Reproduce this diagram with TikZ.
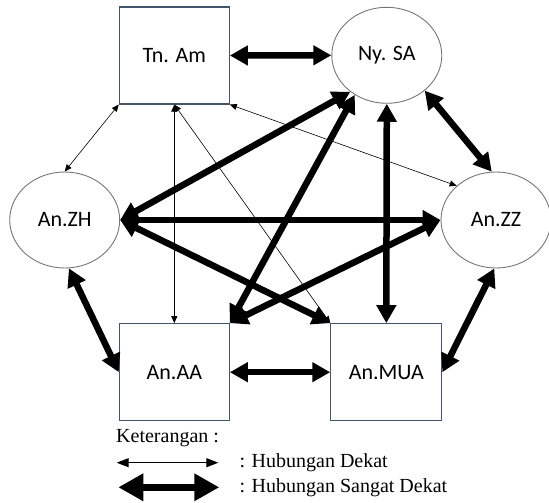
\documentclass[tikz,border=0pt]{standalone}
\usepackage{fontspec}
\setmainfont{Liberation Serif}
\newfontfamily\nodefont{Carlito}
\usepackage{tikz}
\usetikzlibrary{arrows.meta,shapes.geometric}
\definecolor{box_blue}{HTML}{44546A}
\definecolor{oval_gray}{HTML}{767676}

\begin{document}
\begin{tikzpicture}[x=1pt,y=-1pt,
    kotak/.style={draw=box_blue,line width=1.1pt,minimum width=110pt,minimum height=97pt,
        font=\nodefont\fontsize{22pt}{26pt}\selectfont},
    lingkaran/.style={ellipse,draw=oval_gray,line width=0.9pt,minimum width=110pt,minimum height=96pt,
        font=\nodefont\fontsize{22pt}{26pt}\selectfont},
    dekat/.style={{Triangle[length=7pt,width=6pt]}-{Triangle[length=7pt,width=6pt]},line width=0.6pt},
    sangatdekat/.style={{Triangle[length=18pt,width=19pt]}-{Triangle[length=18pt,width=19pt]},line width=6.5pt},
    keterangan/.style={anchor=west,inner sep=0pt,font=\fontsize{20pt}{24pt}\selectfont}]

    \useasboundingbox (0,0) rectangle (549,503);

    % Anggota keluarga
    \node[kotak] (TnAm) at (174.3,55.5) {Tn. Am};
    \node[lingkaran] (NySA) at (386.8,55.3) {Ny. SA};
    \node[lingkaran] (AnZH) at (64.7,220) {An.ZH};
    \node[lingkaran] (AnZZ) at (496,220) {An.ZZ};
    \node[kotak] (AnAA) at (174.3,372.2) {An.AA};
    \node[kotak,minimum width=111pt] (AnMUA) at (386.3,372.2) {An.MUA};

    % Hubungan sangat dekat
    \draw[sangatdekat] (TnAm.east) -- (NySA.west);
    \draw[sangatdekat] (NySA.-43) -- (AnZZ.95);
    \draw[sangatdekat] (NySA.-135) -- (AnZH.east);
    \draw[sangatdekat] (NySA.-129) -- (AnAA.north east);
    \draw[sangatdekat] (NySA.south) -- (AnMUA.north);
    \draw[sangatdekat] (AnZH.east) -- (AnZZ.west);
    \draw[sangatdekat] (AnZH.east) -- (AnMUA.north west);
    \draw[sangatdekat] (AnZZ.west) -- (AnAA.north east);
    \draw[sangatdekat] (AnZH.-85) -- (AnAA.west);
    \draw[sangatdekat] (AnZZ.-92) -- (AnMUA.east);
    \draw[sangatdekat] (AnAA.east) -- (AnMUA.west);

    % Hubungan dekat
    \draw[dekat] (TnAm.south west) -- (AnZH.north);
    \draw[dekat] (TnAm.south) -- (AnAA.north);
    \draw[dekat] (TnAm.south) -- (AnMUA.north west);
    \draw[dekat] (TnAm.south east) -- (AnZZ.139);

    % Keterangan
    \node[keterangan] (ket) at (116,438) {Keterangan :};
    \coordinate (D1) at (116.7,462.7);
    \coordinate (D2) at (218.3,462.7);
    \draw[{Triangle[length=12pt,width=9pt]}-{Triangle[length=12pt,width=9pt]},line width=1.2pt] (D1) -- (D2);
    \node[keterangan] (ketD) at (239.3,462.7) {: Hubungan Dekat};
    \coordinate (S1) at (118.3,487.3);
    \coordinate (S2) at (219.3,487.3);
    \draw[{Triangle[length=25pt,width=26pt]}-{Triangle[length=25pt,width=26pt]},line width=7.5pt] (S1) -- (S2);
    \node[keterangan] (ketSD) at (239.3,487.3) {: Hubungan Sangat Dekat};
\end{tikzpicture}
\end{document}
